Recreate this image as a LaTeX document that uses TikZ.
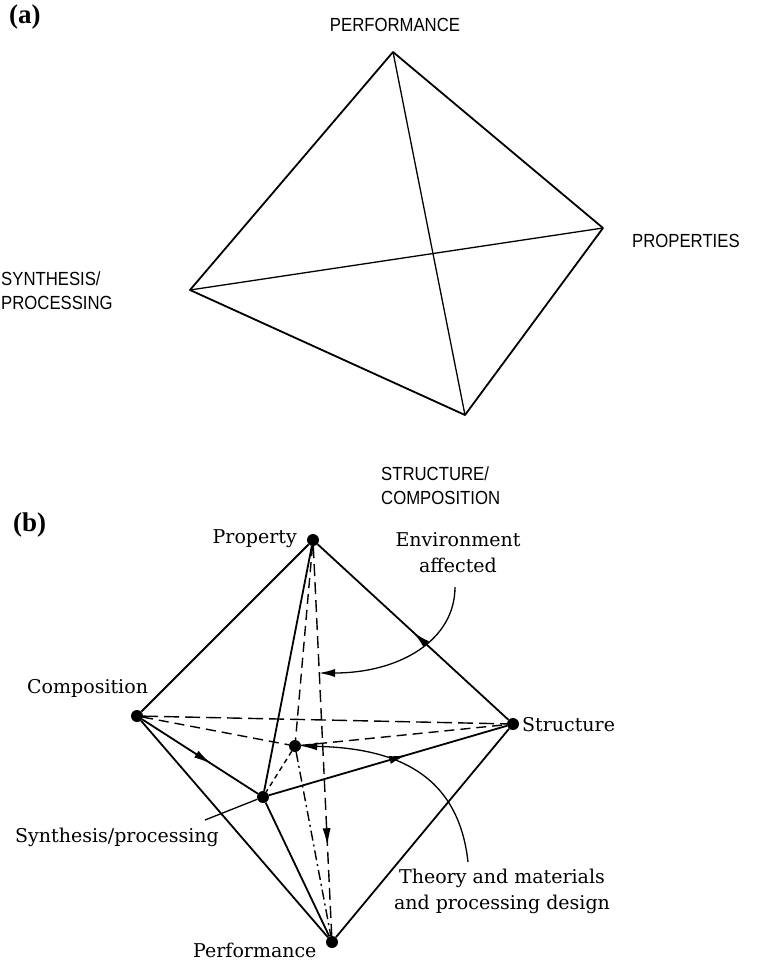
\documentclass[tikz,border=0pt]{standalone}
\usepackage{fontspec}
\setmainfont{Liberation Serif}
\newfontfamily\capsfont[FakeStretch=0.88]{Liberation Sans}
\newfontfamily\labfont{DejaVu Serif}
\usetikzlibrary{arrows.meta,decorations.markings}

\begin{document}
\begin{tikzpicture}[x=1pt, y=-1pt,
  caplbl/.style={font=\capsfont\fontsize{19}{24}\selectfont, inner sep=0pt, align=left},
  lbl/.style={font=\labfont\fontsize{19}{26}\selectfont, inner sep=0pt},
  part/.style={font=\bfseries\fontsize{27}{30}\selectfont, inner sep=0pt, anchor=north west},
  edge/.style={line width=1.8pt},
  diag/.style={line width=1.3pt},
  vtx/.style={circle, fill, inner sep=0pt, minimum size=12pt},
  hid/.style={line width=1.4pt, dash pattern=on 10pt off 6pt},
  ar/.style={line width=1.3pt, -{Latex[length=16pt,width=8pt]}},
  mid/.style={postaction={decorate}, decoration={markings,
    mark=at position #1 with {\arrow{Latex[length=18pt,width=8pt]}}}}]

\useasboundingbox (0,0) rectangle (769,964);

% (a)
\node[part] (parta) at (9,5) {(a)};
\coordinate (aperf) at (393,52);
\coordinate (aprop) at (603,228);
\coordinate (asyn) at (190,290);
\coordinate (astr) at (465,415);

\draw[edge, line join=round] (aperf) -- (aprop) -- (astr) -- (asyn) -- cycle;
\draw[diag] (aperf) -- (astr);
\draw[diag] (asyn) -- (aprop);

\node[caplbl, anchor=base] (aperflbl) at (395,31) {PERFORMANCE};
\node[caplbl, anchor=base west] (aproplbl) at (632,247) {PROPERTIES};
\node[caplbl, anchor=north west] (asynlbl) at (1,272) {SYNTHESIS/\\PROCESSING};
\node[caplbl, anchor=north west] (astrlbl) at (381,467) {STRUCTURE/\\COMPOSITION};

% (b)
\node[part] (partb) at (13,513) {(b)};
\node[vtx] (prop) at (313,540) {};
\node[vtx] (comp) at (137,716) {};
\node[vtx] (str) at (513,724) {};
\node[vtx] (syn) at (263,797) {};
\node[vtx] (inn) at (295,746) {};
\node[vtx] (perf) at (332,942) {};

\draw[edge] (prop) -- (comp);
\draw[edge, mid=0.5] (str) -- (prop);
\draw[edge] (comp) -- (perf);
\draw[edge] (str) -- (perf);
\draw[edge, mid=0.6] (comp) -- (syn);
\draw[edge, mid=0.58] (syn) -- (str);
\draw[edge] (syn) -- (prop);
\draw[edge] (syn) -- (perf);

\draw[hid, dash pattern=on 15pt off 6pt] (comp) -- (str);
\draw[hid] (comp) -- (inn);
\draw[hid] (inn) -- (str);
\draw[hid, dash pattern=on 5pt off 4pt] (inn) -- (syn);
\draw[hid] (prop) -- (inn);
\draw[hid, dash pattern=on 12pt off 6pt, mid=0.77] (prop) -- (perf);
\draw[hid, dash pattern=on 10pt off 4pt on 2pt off 4pt] (inn) -- (perf);

\node[lbl, anchor=base east] (proplbl) at (297,543) {Property};
\node[lbl, anchor=base west] (complbl) at (27,693) {Composition};
\node[lbl, anchor=base west] (strlbl) at (522,731) {Structure};
\node[lbl, anchor=base west] (synlbl) at (15,842) {Synthesis/processing};
\node[lbl, anchor=base west] (perflbl) at (193,957) {Performance};
\node[lbl, anchor=north, align=center] (envlbl) at (458,532) {Environment\\affected};
\node[lbl, anchor=north, align=center] (theorylbl) at (502,869)
  {Theory and materials\\and processing design};

\coordinate (envtail) at (455,587);
\coordinate (envhit) at (319,673);
\coordinate (thtail) at (468,862);
\coordinate (synlead) at (205,820);

\draw[ar] (envtail) .. controls (455,640) and (400,673) .. (envhit);
\draw[ar] (thtail) .. controls (458,770) and (390,748) .. (inn.east);
\draw[diag] (synlead) -- (syn);
\end{tikzpicture}
\end{document}
